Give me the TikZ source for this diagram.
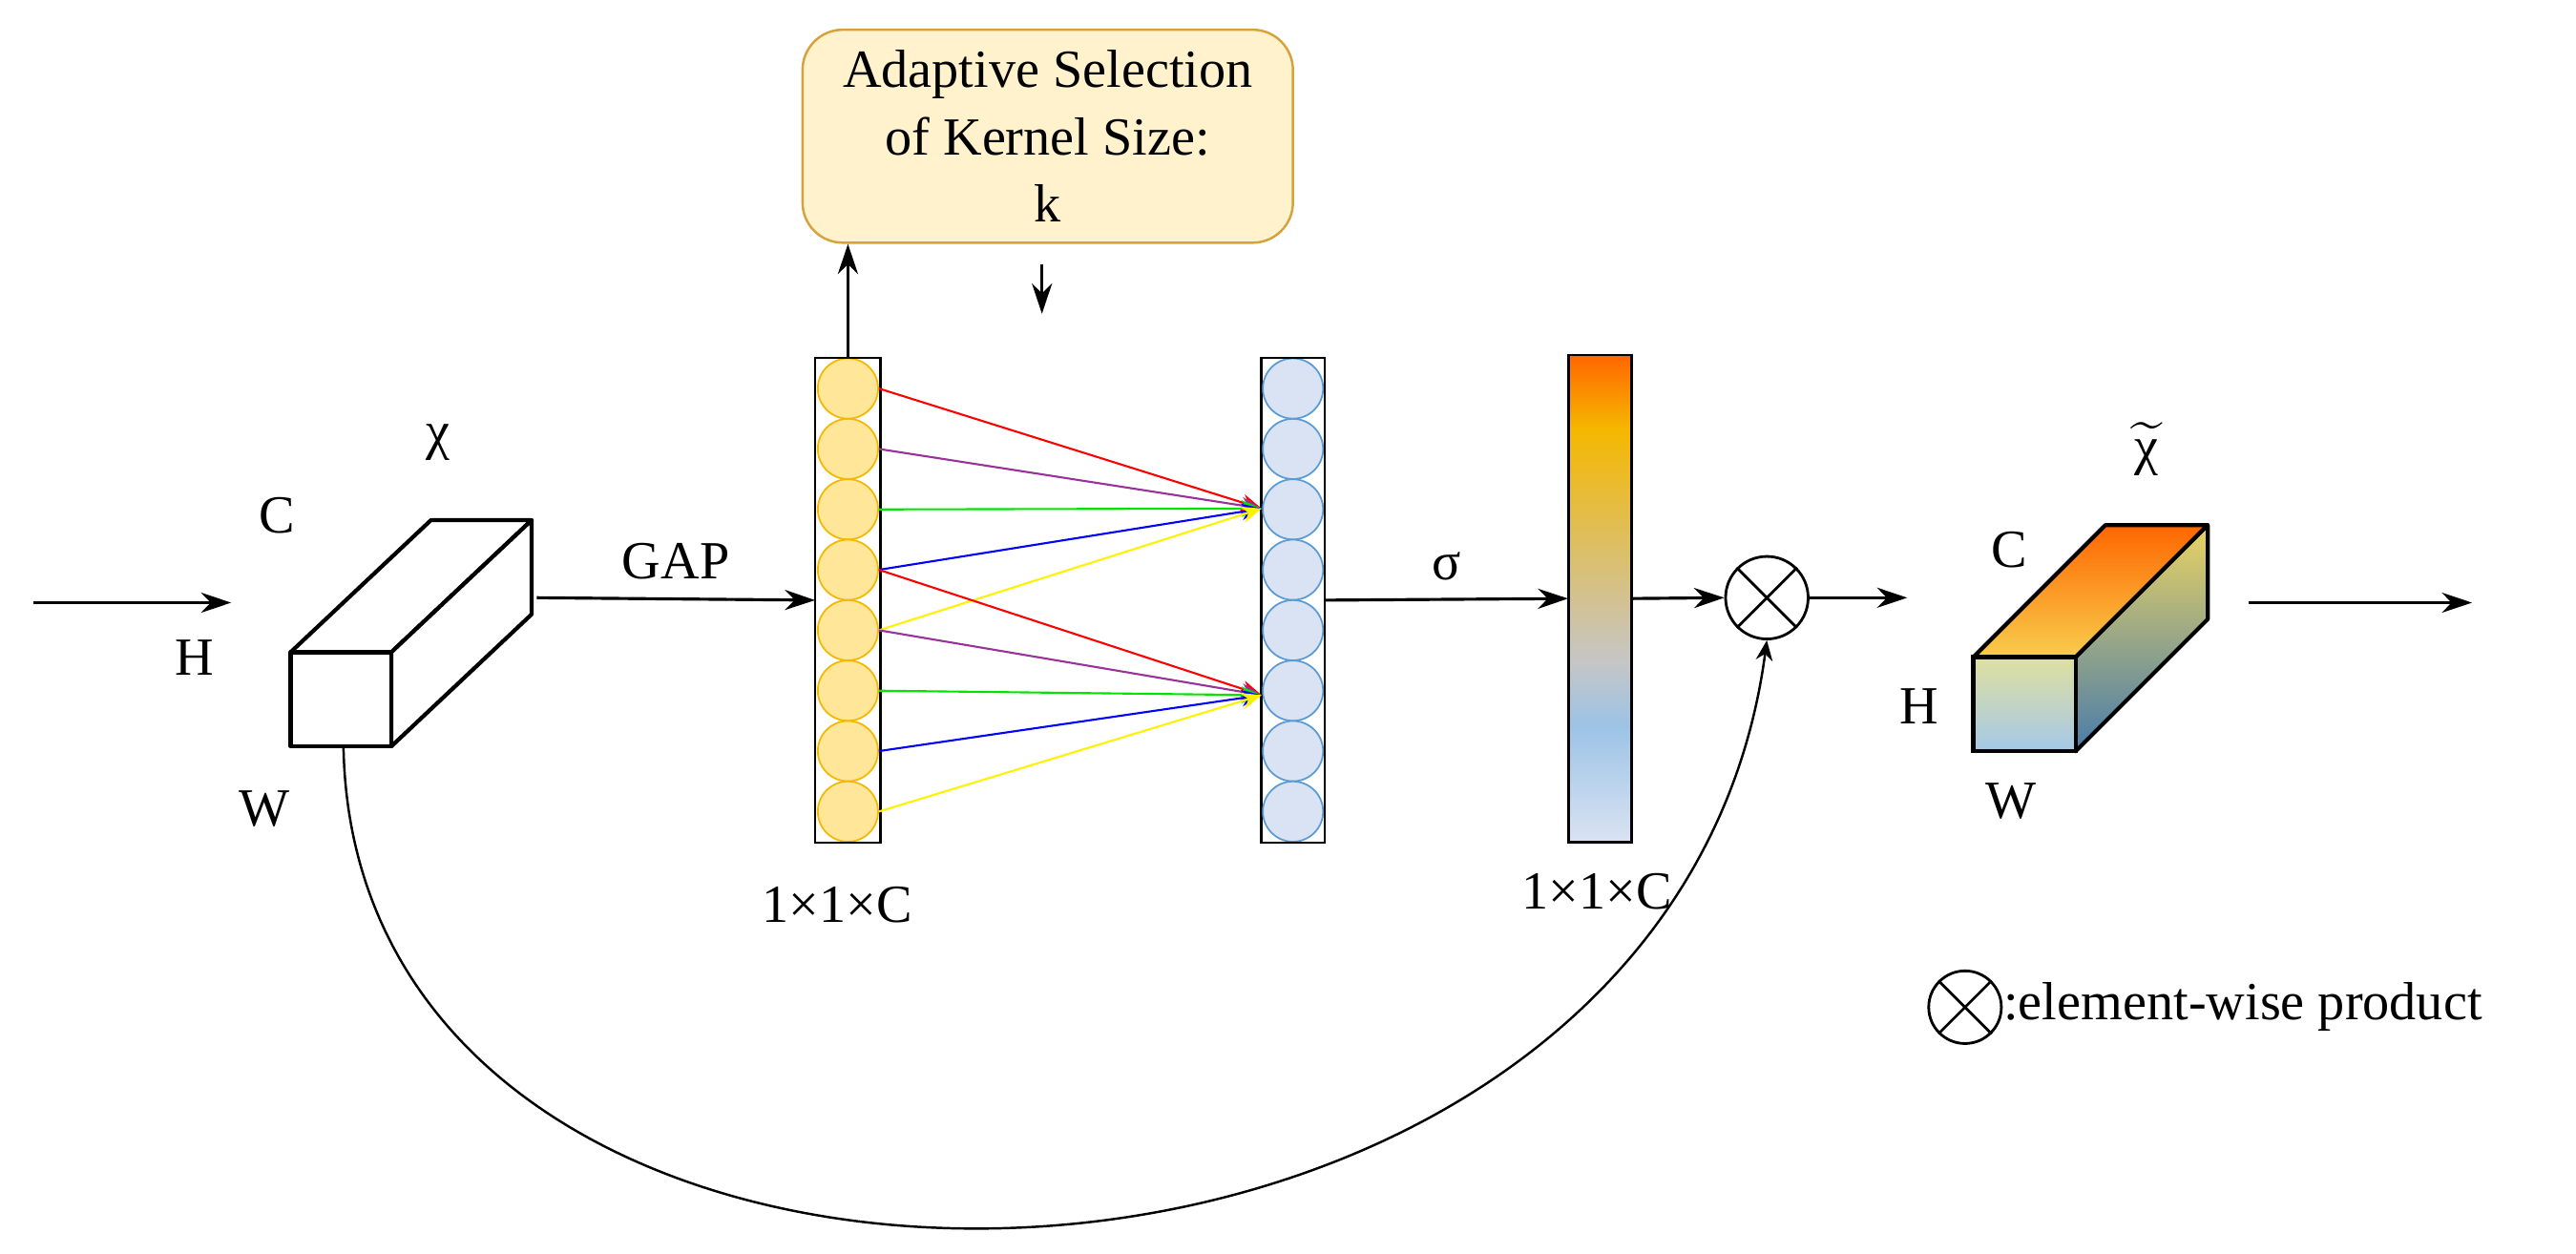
\documentclass[tikz,border=0pt]{standalone}
\usepackage{amsmath}
\usepackage{fontspec}
\setmainfont{Liberation Serif}
\usetikzlibrary{arrows.meta}
\definecolor{cyel}{HTML}{FFE699}
\definecolor{cyeld}{HTML}{F5B800}
\definecolor{cblu}{HTML}{DAE3F3}
\definecolor{cblud}{HTML}{5B9BD5}
\definecolor{kfill}{HTML}{FFF2CC}
\definecolor{kdraw}{HTML}{D6A23C}
\begin{document}
\begin{tikzpicture}[x=0.173mm,y=-0.173mm,
  every node/.style={font=\fontsize{16}{20}\selectfont},
  arr/.style={-{Stealth[length=9pt,width=6pt]},line width=0.9pt},
  thin arr/.style={-{Stealth[length=6pt,width=5pt]},line width=0.6pt},
  cube/.style={line width=1.2pt,line join=round}]
\useasboundingbox (0,0) rectangle (1560,759);
% input
\coordinate (in0) at (20,365); \coordinate (in1) at (140,365);
\draw[arr] (in0) -- (in1);
\node (lC) at (168,312) {C};
\node (lH) at (118,398) {H};
\node (lW) at (160,490) {W};
\node (lchi) at (265,268) {χ};
% input cube
\draw[cube,fill=white] (176,395) -- (261,315) -- (322,315) -- (237,395) -- cycle;
\draw[cube,fill=white] (237,395) -- (322,315) -- (322,372) -- (237,452) -- cycle;
\draw[cube,fill=white] (176,395) rectangle (237,452);
\coordinate (cubeR) at (325,362);
\coordinate (cubeB) at (208,452);
% GAP
\node[draw,minimum width=39*0.173mm,minimum height=293*0.173mm,inner sep=0] (col1) at (513.5,363.5) {};
\draw[arr] (cubeR) -- node[above=2pt] {GAP} (col1.west);
\foreach \i in {0,...,7}
  \node[circle,draw=cyeld,fill=cyel,line width=0.5pt,minimum size=36.5*0.173mm,inner sep=0] (a\i) at (513.5,235.3+36.6*\i) {};
\draw[line width=0.6pt] (col1.north west) rectangle (col1.south east);
\node (l1) at (507,548) {1×1×C};
% kernel box
\node[draw=kdraw,fill=kfill,rounded corners=12pt,minimum width=297*0.173mm,minimum height=129*0.173mm,align=center,line width=0.7pt] (kbox) at (634.5,82.5)
  {Adaptive Selection\\of Kernel Size:\\k};
\draw[arr] (col1.north) -- (col1.north |- kbox.south);
\coordinate (kd0) at (631,160); \coordinate (kd1) at (631,190);
\draw[arr] (kd0) -- (kd1);
% column 2
\node[draw,minimum width=38*0.173mm,minimum height=293*0.173mm,inner sep=0] (col2) at (783,363.5) {};
\foreach \i in {0,...,7}
  \node[circle,draw=cblud,fill=cblu,line width=0.5pt,minimum size=36.5*0.173mm,inner sep=0] (b\i) at (783,235.3+36.6*\i) {};
\draw[line width=0.6pt] (col2.north west) rectangle (col2.south east);
\coordinate (t1) at (764,308); \coordinate (t2) at (764,421);
\foreach \i/\c in {0/red,1/violet!80,2/green!90!black,3/blue,4/yellow}{
  \draw[thin arr,\c] (a\i.east) -- (t1);
}
\foreach \i/\c in {3/red,4/violet!80,5/green!90!black,6/blue,7/yellow}{
  \draw[thin arr,\c] (a\i.east) -- (t2);
}
% sigma and bar
\node[minimum width=38*0.173mm,minimum height=295*0.173mm,inner sep=0] (bar) at (969,362.5) {};
\shade[top color=orange!80!red,bottom color=cyeld] (950,215) rectangle (988,260);
\shade[top color=cyeld,bottom color=gray!45] (950,260) rectangle (988,400);
\shade[top color=gray!45,bottom color=cblud!60] (950,400) rectangle (988,440);
\shade[top color=cblud!60,bottom color=cblu] (950,440) rectangle (988,510);
\draw[line width=0.7pt] (950,215) rectangle (988,510);
\draw[arr] (col2.east) -- node[above=2pt] {σ} (bar.west);
\node (l2) at (967,540) {1×1×C};
% product
\node[circle,draw,line width=0.8pt,minimum size=50*0.173mm,inner sep=0] (prod) at (1070,362) {};
\draw[line width=0.8pt] (prod.north west) -- (prod.south east) (prod.north east) -- (prod.south west);
\draw[arr] (bar.east) -- (prod.west);
\coordinate (pout) at (1155,362);
\draw[arr] (prod.east) -- (pout);
\draw[thin arr,line width=0.7pt] (cubeB) .. controls (215,860) and (1010,840) .. (prod.south);
% output cube
\shade[top color=orange!80!red,bottom color=cyeld!70,draw,line width=1.2pt,line join=round] (1195,398) -- (1275,318) -- (1337,318) -- (1257,398) -- cycle;
\shade[top color=yellow!50!brown!70,bottom color=cblud!80!black,draw,line width=1.2pt,line join=round] (1257,398) -- (1337,318) -- (1337,375) -- (1257,455) -- cycle;
\shade[top color=gray!50!yellow!50,bottom color=cblud!55,draw,line width=1.2pt] (1195,398) rectangle (1257,455);
\node (oC) at (1217,333) {C};
\node (oH) at (1162,428) {H};
\node (oW) at (1218,485) {W};
\node (ochi) at (1300,272) {$\widetilde{\text{χ}}$};
\coordinate (o0) at (1362,365); \coordinate (o1) at (1497,365);
\draw[arr] (o0) -- (o1);
% legend
\node[circle,draw,line width=0.8pt,minimum size=44*0.173mm,inner sep=0] (leg) at (1190,610) {};
\draw[line width=0.8pt] (leg.north west) -- (leg.south east) (leg.north east) -- (leg.south west);
\node[anchor=west,inner sep=0] (legt) at (1213,610) {:element-wise product};
\end{tikzpicture}
\end{document}
